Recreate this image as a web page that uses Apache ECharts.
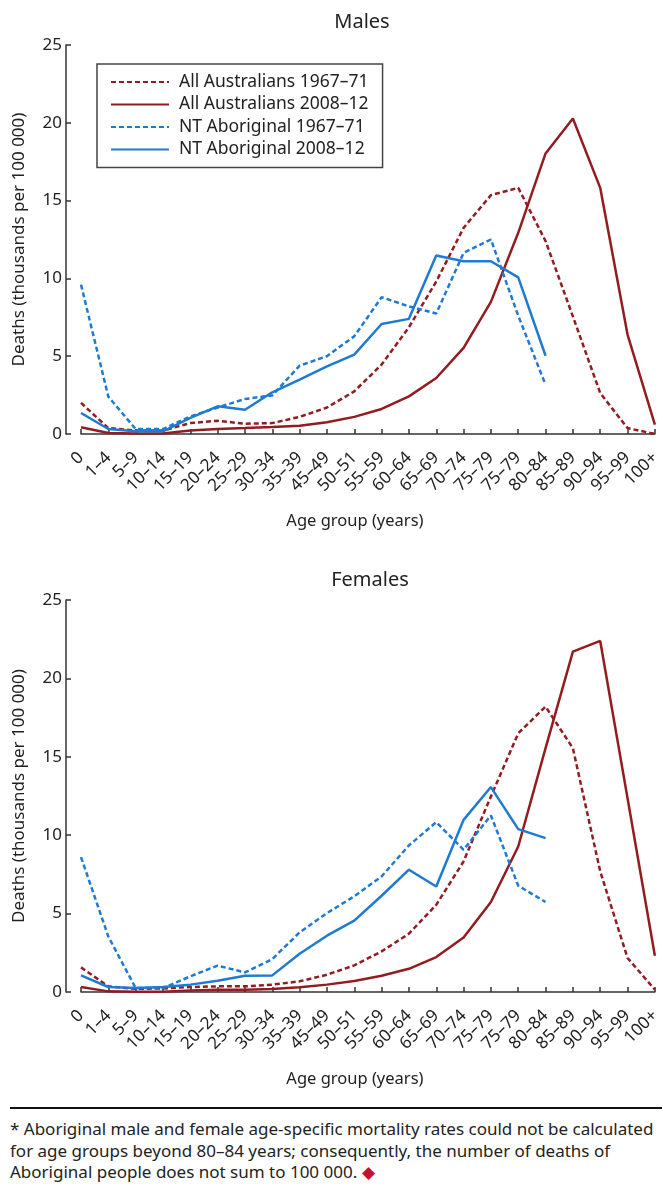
<!DOCTYPE html>
<html>
<head>
<meta charset="utf-8">
<script src="https://cdn.jsdelivr.net/npm/echarts@6/dist/echarts.min.js"></script>
<style>
  body { margin: 0; background: #fff; }
  #chart { width: 663px; height: 1100px; }
  .note {
    position: absolute; left: 10px; top: 1107px; width: 652px;
    border-top: 2.5px solid #111; padding-top: 9px;
    font-family: 'Noto Sans', sans-serif; font-size: 17px; line-height: 21.5px; color: #222;
    white-space: nowrap;
  }
  .note .dia { color: #c8102e; }
</style>
</head>
<body>
<div id="chart"></div>
<div class="note">* Aboriginal male and female age-specific mortality rates could not be calculated<br>for age groups beyond 80–84 years; consequently, the number of deaths of<br>Aboriginal people does not sum to 100 000. <span class="dia">◆</span></div>
<script>
// 年龄组（保留原图标签）
const ageGroups = ['0', '1–4', '5–9', '10–14', '15–19', '20–24', '25–29', '30–34', '35–39', '45–49',
  '50–51', '55–59', '60–64', '65–69', '70–74', '75–79', '75–79', '80–84', '85–89', '90–94', '95–99', '100+']
const yTicks = [0, 5, 10, 15, 20, 25]

const seriesNames = ['All Australians 1967–71', 'All Australians 2008–12', 'NT Aboriginal 1967–71', 'NT Aboriginal 2008–12']

// Males
const allAus1967M = [2.0, 0.38, 0.22, 0.22, 0.7, 0.85, 0.66, 0.7, 1.1, 1.7, 2.74, 4.46, 6.86, 9.8, 13.25, 15.35, 15.82, 12.4, 7.56, 2.63, 0.38, 0.0]
const allAus2008M = [0.43, 0.06, 0.03, 0.03, 0.23, 0.32, 0.38, 0.45, 0.53, 0.75, 1.1, 1.61, 2.42, 3.6, 5.53, 8.49, 12.93, 18.03, 20.28, 15.82, 6.39, 0.6]
const nt1967M = [9.6, 2.4, 0.32, 0.32, 1.13, 1.7, 2.25, 2.48, 4.39, 5.0, 6.28, 8.79, 8.2, 7.74, 11.64, 12.5, 7.6, 3.17]
const nt2008M = [1.35, 0.32, 0.17, 0.17, 1.03, 1.78, 1.56, 2.68, 3.49, 4.35, 5.1, 7.07, 7.4, 11.47, 11.1, 11.1, 10.07, 5.03]

// Females
const allAus1967F = [1.57, 0.36, 0.2, 0.23, 0.32, 0.36, 0.36, 0.47, 0.68, 1.1, 1.7, 2.59, 3.72, 5.56, 8.33, 12.47, 16.5, 18.2, 15.55, 7.69, 2.17, 0.15]
const allAus2008F = [0.32, 0.04, 0.02, 0.02, 0.1, 0.15, 0.15, 0.19, 0.3, 0.47, 0.7, 1.04, 1.48, 2.23, 3.48, 5.74, 9.28, 15.55, 21.71, 22.39, 12.36, 2.31]
const nt1967F = [8.6, 3.54, 0.25, 0.25, 1.0, 1.68, 1.25, 2.1, 3.8, 5.03, 6.1, 7.37, 9.35, 10.83, 9.07, 11.26, 6.78, 5.74]
const nt2008F = [1.06, 0.32, 0.25, 0.32, 0.47, 0.72, 1.04, 1.06, 2.44, 3.59, 4.55, 6.14, 7.8, 6.73, 10.98, 13.07, 10.39, 9.81]

const RED = '#931c20'
const BLUE = '#1f7ad2'
const FONT = 'Noto Sans'

const chart = echarts.init(document.getElementById('chart'))

const makeX = (gridIndex) => ({
  type: 'category',
  gridIndex,
  data: ageGroups,
  boundaryGap: false,
  offset: 15,
  axisLine: { lineStyle: { color: '#333', width: 1.5 } },
  axisTick: { inside: true, length: 5, lineStyle: { color: '#333', width: 1.5 } },
  axisLabel: { rotate: 45, interval: 0, margin: 6, color: '#222', fontSize: 17, fontFamily: FONT },
  name: 'Age group (years)',
  nameLocation: 'middle',
  nameGap: 64,
  nameTextStyle: { fontSize: 16.5, color: '#222', fontFamily: FONT, padding: [0, 26, 0, 0] },
  splitLine: { show: false },
})

const makeY = (gridIndex) => ({
  type: 'value',
  gridIndex,
  min: yTicks[0],
  max: yTicks[yTicks.length - 1],
  interval: 5,
  offset: 15,
  axisLine: { show: true, lineStyle: { color: '#333', width: 1.5 } },
  axisTick: { show: true, inside: true, length: 5, lineStyle: { color: '#333', width: 1.5 } },
  axisLabel: { margin: 4, color: '#222', fontSize: 17, fontFamily: FONT },
  splitLine: { show: false },
  name: 'Deaths (thousands per 100 000)',
  nameLocation: 'middle',
  nameGap: 38,
  nameTextStyle: { fontSize: 17, color: '#222', fontFamily: FONT },
})

const line = (name, data, color, dashed, idx) => ({
  name,
  type: 'line',
  xAxisIndex: idx,
  yAxisIndex: idx,
  data,
  showSymbol: false,
  symbol: 'none',
  lineStyle: { color, width: 2.5, type: dashed ? [5, 3] : 'solid' },
  itemStyle: { color },
  silent: true,
  animation: false,
})

const option = {
  animation: false,
  title: [
    { text: 'Males', left: 357, top: 7, textAlign: 'center', textStyle: { fontSize: 20, fontWeight: 'normal', color: '#222', fontFamily: FONT } },
    { text: 'Females', left: 365, top: 565, textAlign: 'center', textStyle: { fontSize: 20, fontWeight: 'normal', color: '#222', fontFamily: FONT } },
  ],
  legend: {
    left: 97,
    top: 64,
    orient: 'vertical',
    data: seriesNames,
    itemWidth: 58,
    itemHeight: 14,
    itemGap: 0.5,
    padding: [7, 14, 7, 13],
    borderColor: '#444',
    borderWidth: 1.5,
    itemStyle: { opacity: 0 },
    textStyle: { fontSize: 17.5, lineHeight: 22, color: '#222', fontFamily: FONT, padding: [0, 0, 0, 5] },
  },
  grid: [
    { left: 81, right: 6, top: 45, height: 389 },
    { left: 81, right: 6, top: 600, height: 392 },
  ],
  xAxis: [makeX(0), makeX(1)],
  yAxis: [makeY(0), makeY(1)],
  series: [
    line(seriesNames[0], allAus1967M, RED, true, 0),
    line(seriesNames[1], allAus2008M, RED, false, 0),
    line(seriesNames[2], nt1967M, BLUE, true, 0),
    line(seriesNames[3], nt2008M, BLUE, false, 0),
    line(seriesNames[0], allAus1967F, RED, true, 1),
    line(seriesNames[1], allAus2008F, RED, false, 1),
    line(seriesNames[2], nt1967F, BLUE, true, 1),
    line(seriesNames[3], nt2008F, BLUE, false, 1),
  ],
}

chart.setOption(option)
</script>
</body>
</html>
